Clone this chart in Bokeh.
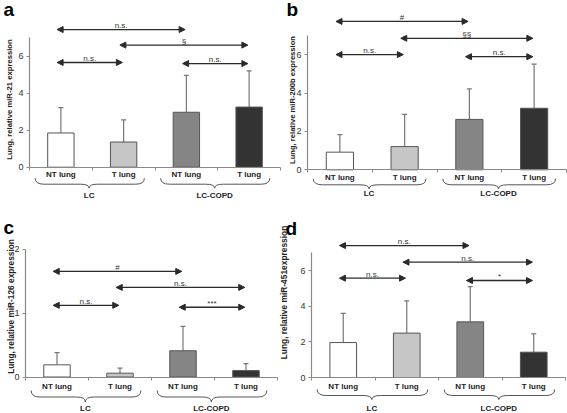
import numpy as np
from bokeh.plotting import figure
from bokeh.layouts import column, row
from bokeh.models import (ColumnDataSource, Range1d, FixedTicker, Whisker, TeeHead,
                          Arrow, NormalHead, Label)
from bokeh.core.properties import value
from bokeh.embed import file_html
from bokeh.resources import INLINE

# ---------------- data ----------------
categories = ["NT lung", "T lung", "NT lung", "T lung"]
groups = ["LC", "LC-COPD"]
group_start = [0, 2]
bar_colors = ["#ffffff", "#c6c6c6", "#858585", "#333333"]

letters = ["a", "b", "c", "d"]
y_titles = ["Lung, relative miR-21 expression",
            "Lung, relative miR-200b expression",
            "Lung, relative miR-126 expression",
            "Lung, relative miR-451expression"]
y_ticks = [[0, 2, 4, 6], [0, 2, 4, 6], [0, 1, 2], [0, 2, 4, 6]]
y_axis_top = [7, 7, 2, 7]

mean_a = [1.85, 1.36, 2.97, 3.25]
sd_a = [1.37, 1.20, 1.99, 1.96]
mean_b = [0.92, 1.21, 2.63, 3.21]
sd_b = [0.92, 1.68, 1.59, 2.30]
mean_c = [0.19, 0.06, 0.41, 0.10]
sd_c = [0.19, 0.08, 0.38, 0.11]
mean_d = [1.96, 2.49, 3.12, 1.42]
sd_d = [1.64, 1.81, 1.98, 1.03]

cmp_from = [0, 1, 0, 2]
cmp_to = [2, 3, 1, 3]
cmp_y_a = [7.44, 6.60, 5.66, 5.60]
cmp_lbl_a = ["n.s.", "§", "n.s.", "n.s."]
cmp_y_b = [7.74, 6.86, 6.01, 5.90]
cmp_lbl_b = ["#", "§§", "n.s.", "n.s."]
cmp_y_c = [1.65, 1.40, 1.12, 1.09]
cmp_lbl_c = ["#", "n.s.", "n.s.", "***"]
cmp_y_d = [7.40, 6.47, 5.57, 5.44]
cmp_lbl_d = ["n.s.", "n.s.", "n.s.", "*"]

means = [mean_a, mean_b, mean_c, mean_d]
sds = [sd_a, sd_b, sd_c, sd_d]
cmp_ys = [cmp_y_a, cmp_y_b, cmp_y_c, cmp_y_d]
cmp_lbls = [cmp_lbl_a, cmp_lbl_b, cmp_lbl_c, cmp_lbl_d]

# ---------------- layout / style ----------------
FONT = "Liberation Sans"
AXC = "#8a8a8a"
TXT = "#222222"
ARC = "#2a2a2a"

# geometry in pixels, relative to each panel's own box
geom = [
    dict(qw=284, qh=206, ax=29, ux=62.75, by=166.7, uy=18.5, tx=9, ty=99, ts=7.7,
         lx=3, ly=9, cat=7, bt=11, bm=17, btip=21, grp=28),
    dict(qw=283, qh=206, ax=23, ux=64.75, by=169.3, uy=19.17, tx=7.5, ty=99.5, ts=7.6,
         lx=2, ly=9, cat=8, bt=9, bm=15, btip=19, grp=24),
    dict(qw=278, qh=207, ax=25, ux=63.0, by=170.5, uy=64.0, tx=10, ty=100, ts=8.3,
         lx=3, ly=21, cat=9.5, bt=13.5, bm=20, btip=25, grp=31.5),
    dict(qw=289, qh=207, ax=33, ux=63.5, by=171, uy=17.83, tx=5.5, ty=86, ts=8.4,
         lx=7, ly=22, cat=9, bt=12, bm=18, btip=22, grp=31),
]


def make_panel(i):
    g = geom[i]

    def px2x(v):
        return (v - g["ax"]) / g["ux"]

    def px2y(v):
        return (g["by"] - v) / g["uy"]

    def dy(v):
        return v / g["uy"]

    p = figure(width=g["qw"], height=g["qh"],
               x_range=Range1d(px2x(0), px2x(g["qw"])),
               y_range=Range1d(px2y(g["qh"]), px2y(0)),
               output_backend="svg", toolbar_location=None, title=None, tools="",
               min_border=0, min_border_left=0, min_border_right=0,
               min_border_top=0, min_border_bottom=0)
    p.grid.visible = False
    p.outline_line_color = None
    p.background_fill_color = "white"

    n = len(categories)

    ya = p.yaxis[0]
    ya.fixed_location = 0
    ya.ticker = FixedTicker(ticks=y_ticks[i])
    ya.bounds = (0, y_axis_top[i])
    ya.axis_line_color = AXC
    ya.axis_line_width = 1.2
    ya.major_tick_line_color = AXC
    ya.major_tick_out = 3
    ya.major_tick_in = 0
    ya.minor_tick_line_color = None
    ya.major_label_standoff = 3
    ya.major_label_text_font = FONT
    ya.major_label_text_font_size = "9px"
    ya.major_label_text_color = "#333333"

    xa = p.xaxis[0]
    xa.fixed_location = 0
    xa.ticker = FixedTicker(ticks=list(range(n + 1)))
    xa.bounds = (0, n)
    xa.major_label_overrides = {k: "" for k in range(n + 1)}
    xa.axis_line_color = AXC
    xa.axis_line_width = 1.2
    xa.major_tick_line_color = AXC
    xa.major_tick_out = 3
    xa.major_tick_in = 0
    xa.minor_tick_line_color = None

    centers = np.arange(n) + 0.5
    m = np.array(means[i])
    s = np.array(sds[i])
    src = ColumnDataSource(dict(x=centers, top=m, hi=m + s, color=bar_colors))

    p.vbar(x="x", top="top", width=0.42, bottom=0, fill_color="color",
           line_color="#555555", line_width=1, source=src)
    p.add_layout(Whisker(source=src, base="x", lower="top", upper="hi",
                         upper_head=TeeHead(size=5, line_color="#777777", line_width=1.2),
                         lower_head=None, line_color="#777777", line_width=1.2))

    # category labels
    p.text(x=centers, y=np.zeros(n) - dy(g["cat"]), text=categories,
           text_font=value(FONT), text_font_style="bold", text_font_size="8px",
           text_align="center", text_baseline="middle", text_color=TXT)

    # group braces and labels
    for gi, gs in enumerate(group_start):
        x0 = gs + 0.09
        x1 = gs + 1.83
        xtip = gs + 0.95
        r = 0.14
        yt = -dy(g["bt"])
        ym = -dy(g["bm"])
        yb = -dy(g["btip"])
        p.quadratic(x0=[x0, xtip - r, xtip, x1], y0=[yt, ym, yb, yt],
                    x1=[x0 + r, xtip, xtip + r, x1 - r], y1=[ym, yb, ym, ym],
                    cx=[x0, xtip, xtip, x1], cy=[ym, ym, ym, ym],
                    line_color="#555555", line_width=1)
        p.segment(x0=[x0 + r, xtip + r], y0=[ym, ym], x1=[xtip - r, x1 - r], y1=[ym, ym],
                  line_color="#555555", line_width=1)
        p.text(x=[xtip], y=[-dy(g["grp"])], text=[groups[gi]],
               text_font=value(FONT), text_font_style="bold", text_font_size="8px",
               text_align="center", text_baseline="middle", text_color=TXT)

    # significance arrows
    xs = [centers[a] - 0.06 for a in cmp_from]
    xe = [centers[b] - 0.02 for b in cmp_to]
    ys = cmp_ys[i]
    asrc = ColumnDataSource(dict(xs=xs, xe=xe, y=ys))
    p.add_layout(Arrow(source=asrc, x_start="xs", y_start="y", x_end="xe", y_end="y",
                       start=NormalHead(size=6, fill_color=ARC, line_color=ARC, line_width=1),
                       end=NormalHead(size=6, fill_color=ARC, line_color=ARC, line_width=1),
                       line_color=ARC, line_width=1.3))
    mids = [(a + b) / 2 for a, b in zip(xs, xe)]
    p.text(x=mids, y=[v + dy(4) for v in ys], text=cmp_lbls[i],
           text_font=value(FONT), text_font_size="8px", text_align="center",
           text_baseline="alphabetic", text_color="#333333")

    # y axis title and panel letter
    p.add_layout(Label(x=px2x(g["tx"]), y=px2y(g["ty"]), text=y_titles[i], angle=np.pi / 2,
                       text_align="center", text_baseline="middle", text_font=FONT,
                       text_font_style="bold", text_font_size="%.1fpx" % g["ts"],
                       text_color=TXT))
    p.add_layout(Label(x=px2x(g["lx"]), y=px2y(g["ly"]), text=letters[i],
                       text_align="left", text_baseline="alphabetic", text_font=FONT,
                       text_font_style="bold", text_font_size="19px", text_color="black"))
    return p


panels = [make_panel(i) for i in range(4)]
layout = column(row(panels[0], panels[1]), row(panels[2], panels[3]))

open("out.html", "w").write(file_html(layout, INLINE))
